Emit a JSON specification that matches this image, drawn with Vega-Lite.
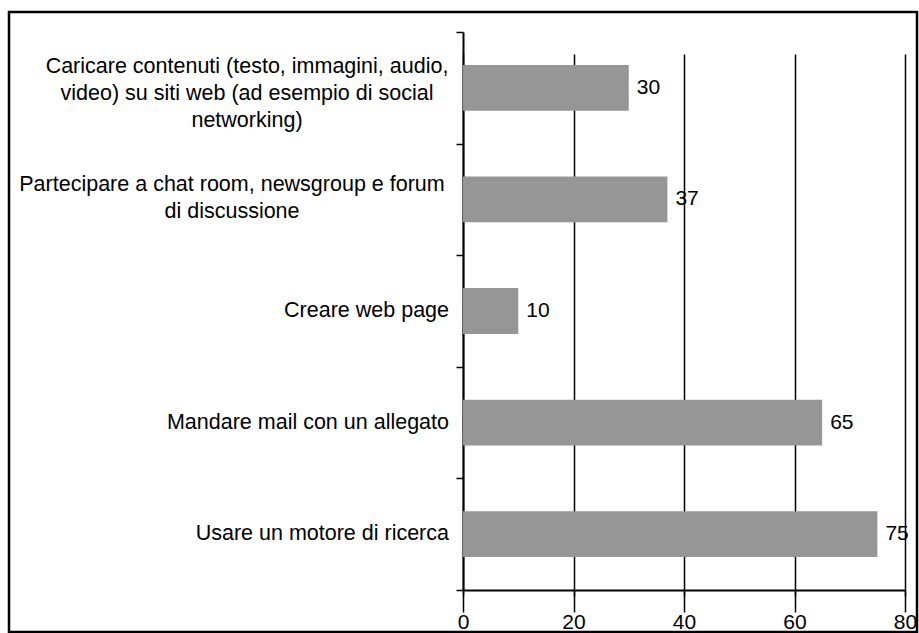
{
  "$schema": "https://vega.github.io/schema/vega-lite/v6.json",
  "autosize": {"type": "none"},
  "width": 908,
  "height": 620,
  "padding": {"left": 9, "top": 12, "right": 2, "bottom": 1},
  "background": "white",
  "config": {
    "view": {"stroke": "black", "strokeWidth": 2.5},
    "font": "Liberation Sans",
    "axis": {
      "domainColor": "black",
      "tickColor": "black",
      "gridColor": "black",
      "labelColor": "black",
      "labelFont": "Liberation Sans",
      "title": null
    },
    "text": {"font": "Liberation Sans", "color": "black", "lineBreak": "\n", "lineHeight": 27}
  },
  "data": {
    "values": [
      {"activity": "Caricare contenuti (testo, immagini, audio,\nvideo) su siti web (ad esempio di social\nnetworking)", "pct": 30},
      {"activity": "Partecipare a chat room, newsgroup e forum\ndi discussione", "pct": 37},
      {"activity": "Creare web page", "pct": 10},
      {"activity": "Mandare mail con un allegato", "pct": 65},
      {"activity": "Usare un motore di ricerca", "pct": 75}
    ]
  },
  "encoding": {
    "y": {
      "field": "activity",
      "type": "nominal",
      "sort": null,
      "scale": {"range": [20, 578], "paddingInner": 0, "paddingOuter": 0},
      "axis": {
        "offset": -454,
        "domainWidth": 2,
        "tickSize": 7,
        "tickWidth": 1.5,
        "tickBand": "extent",
        "grid": false,
        "labels": false
      }
    },
    "x": {
      "field": "pct",
      "type": "quantitative",
      "scale": {"domain": [0, 80], "range": [454, 896], "nice": false},
      "axis": {
        "offset": -42,
        "values": [0, 20, 40, 60, 80],
        "domainWidth": 2,
        "tickSize": 6,
        "tickWidth": 1.5,
        "grid": true,
        "gridWidth": 1.5,
        "labelFontSize": 21,
        "labelPadding": 15,
        "labelFlush": false,
        "labelOverlap": false
      }
    }
  },
  "layer": [
    {"mark": {"type": "bar", "color": "#969696", "height": {"band": 0.41}}},
    {
      "mark": {"type": "text", "align": "left", "baseline": "middle", "dx": 8, "fontSize": 21},
      "encoding": {"text": {"field": "pct", "type": "quantitative"}}
    },
    {
      "transform": [{"filter": "indexof(datum.activity, '\\n') < 0"}],
      "mark": {"type": "text", "align": "right", "baseline": "middle", "dx": -14, "fontSize": 21.5},
      "encoding": {
        "x": {"datum": 0, "type": "quantitative"},
        "text": {"field": "activity", "type": "nominal"}
      }
    },
    {
      "transform": [{"filter": "indexof(datum.activity, 'Caricare') == 0"}],
      "mark": {"type": "text", "align": "center", "baseline": "middle", "dx": -216, "dy": -21, "fontSize": 21.5},
      "encoding": {
        "x": {"datum": 0, "type": "quantitative"},
        "text": {"field": "activity", "type": "nominal"}
      }
    },
    {
      "transform": [{"filter": "indexof(datum.activity, 'Partecipare') == 0"}],
      "mark": {"type": "text", "align": "center", "baseline": "middle", "dx": -231, "dy": -14, "fontSize": 21.5},
      "encoding": {
        "x": {"datum": 0, "type": "quantitative"},
        "text": {"field": "activity", "type": "nominal"}
      }
    }
  ]
}
